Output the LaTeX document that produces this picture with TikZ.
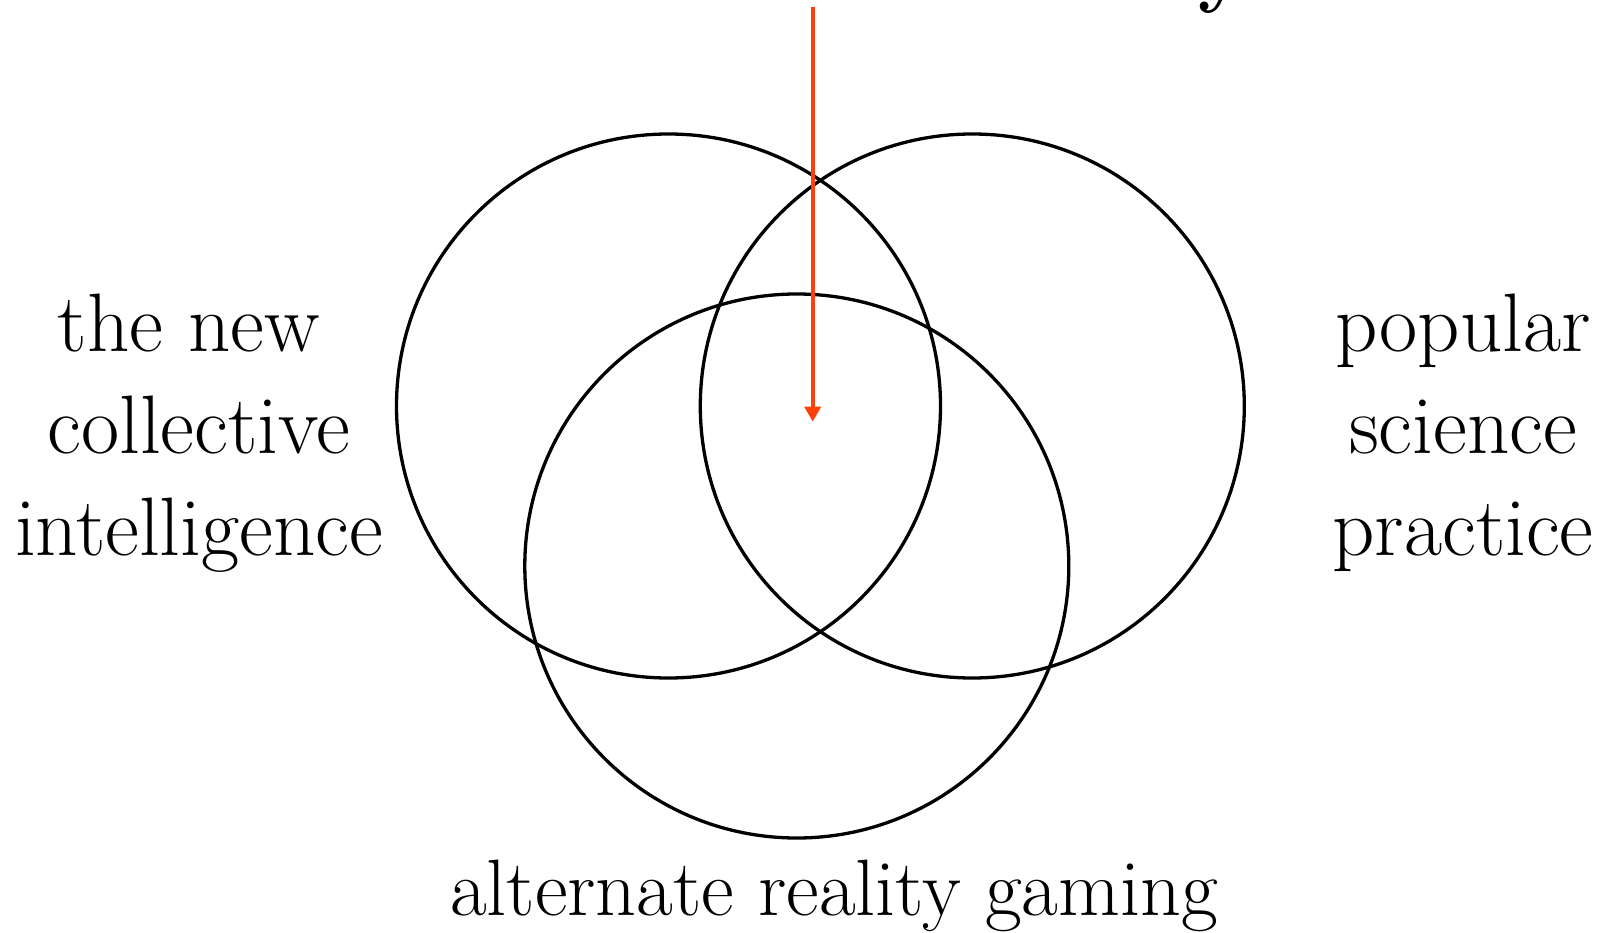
\documentclass[tikz,border=0pt]{standalone}
\usetikzlibrary{arrows.meta}
\definecolor{arrowred}{RGB}{252,66,10}
\begin{document}
\begin{tikzpicture}[x=1pt,y=-1pt,
  ring/.style={draw=black,line width=3.3pt,circle,minimum size=544pt,inner sep=0pt},
  label/.style={align=center,font=\fontsize{83}{101.7}\selectfont,inner sep=0pt,anchor=base},
  pointer/.style={draw=arrowred,line width=3.6pt,-{Triangle[length=15pt,width=16pt]}}]
\useasboundingbox (0,0) rectangle (1603,933);
\node[ring] (left) at (668.5,406) {};
\node[ring] (right) at (972.3,406) {};
\node[ring] (bottom) at (796.8,566) {};
\node[label] (lt) at (199,555) {the new\hspace*{20pt}\\collective\\intelligence};
\node[label] (rt) at (1463,555) {popular\\science\\practice};
\node[label,font=\fontsize{80}{90}\selectfont] (bt) at (834,915) {alternate reality gaming};
\node[anchor=base west,inner sep=0pt,font=\fontsize{80}{90}\selectfont\bfseries] (ttl) at (1198,-2) {y};
\coordinate (astart) at (812.7,7);
\coordinate (atip) at (812.7,421.7);
\draw[pointer] (astart) -- (atip);
\end{tikzpicture}
\end{document}
